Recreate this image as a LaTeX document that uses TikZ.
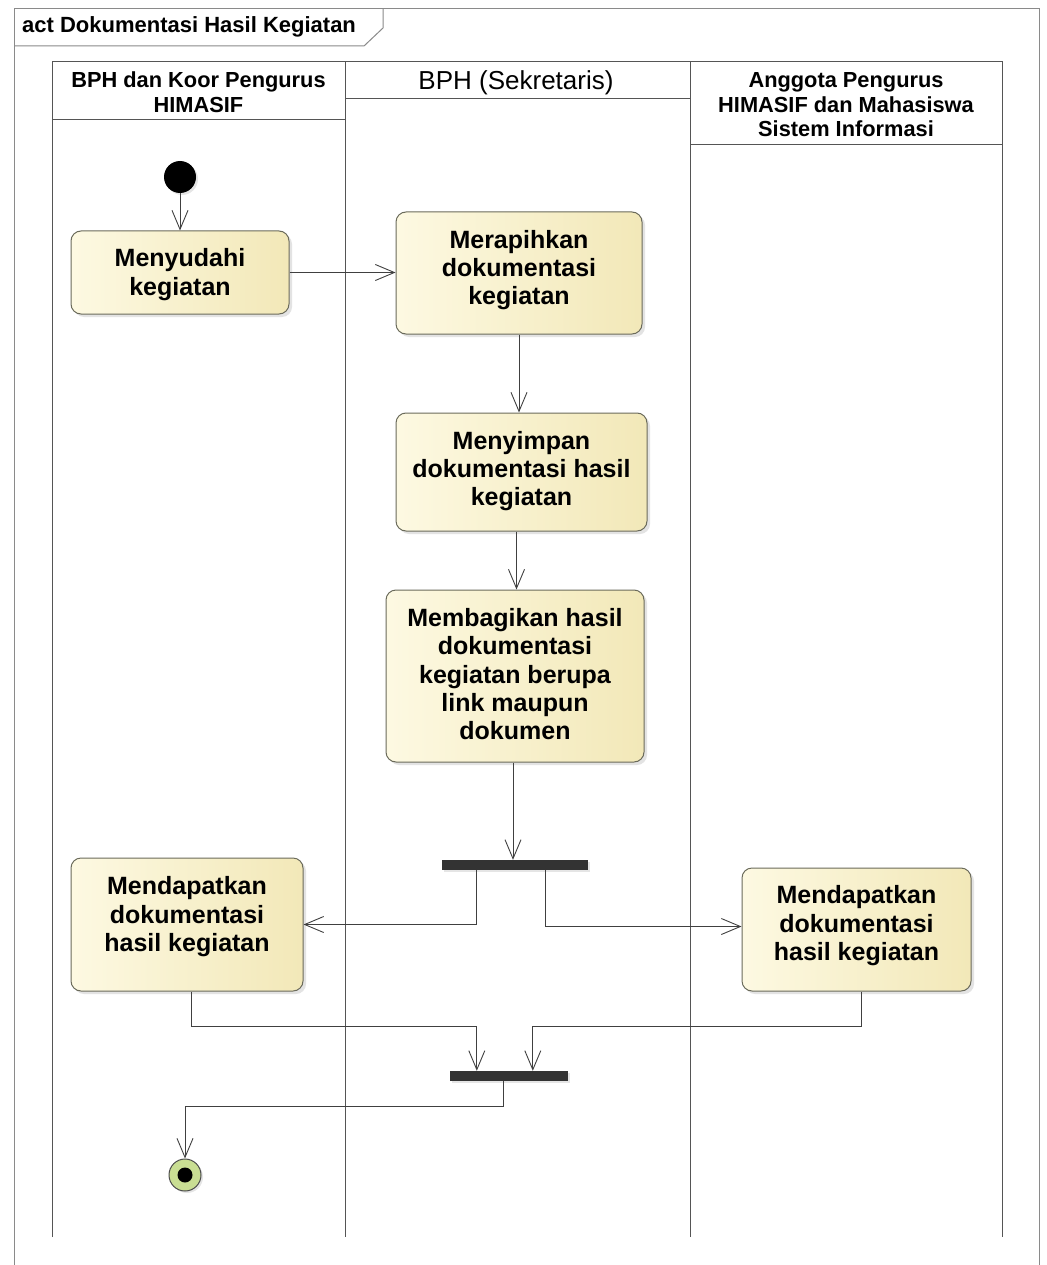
\documentclass[tikz,border=0pt]{standalone}
\usepackage{fontspec}
\setmainfont{Liberation Sans}
\usetikzlibrary{arrows.meta,shadows,positioning,calc}
\definecolor{boxL}{HTML}{FDF9E2}
\definecolor{boxR}{HTML}{F2E8B8}
\definecolor{boxdraw}{HTML}{6B6B5B}
\definecolor{lanecol}{HTML}{555555}
\definecolor{framecol}{HTML}{8A8A8A}
\definecolor{finalgreen}{HTML}{C9DE93}
\begin{document}
\begin{tikzpicture}[x=1pt,y=-1pt,
  action/.style={draw=boxdraw, line width=1pt, rounded corners=10pt,
    left color=boxL, right color=boxR, align=center,
    drop shadow={shadow xshift=3pt, shadow yshift=-3pt, opacity=0.22},
    font=\fontsize{25}{28.3}\selectfont\bfseries, inner sep=0pt},
  bar/.style={fill=black!80, draw=none, minimum height=10pt, inner sep=0pt,
    drop shadow={shadow xshift=2pt, shadow yshift=-2pt, opacity=0.2}},
  flow/.style={draw=black!75, line width=0.9pt,
    -{Straight Barb[length=19pt,width=16pt,line width=0.9pt]}},
  lane/.style={draw=lanecol, line width=1pt},
  hdr/.style={align=center, inner sep=0pt, font=\fontsize{21.8}{24.5}\selectfont\bfseries}
]
\useasboundingbox (0,0) rectangle (1046,1265);
\fill[white] (0,0) rectangle (1046,1265);

% frame
\draw[framecol, line width=1pt] (14,1265) -- (14,9) -- (1039,9) -- (1039,1265);
\draw[framecol, line width=1pt] (14,46) -- (364,46) -- (383,28) -- (383,9);
\node[anchor=west, inner sep=0pt, font=\fontsize{22}{24}\selectfont\bfseries] (title) at (22,27) {act Dokumentasi Hasil Kegiatan};

% swimlanes
\draw[lane] (52,1237) -- (52,62) -- (1002,62) -- (1002,1237);
\draw[lane] (345,62) -- (345,1237);
\draw[lane] (690,62) -- (690,1237);
\draw[lane] (52,120) -- (345,120);
\draw[lane] (345,99) -- (690,99);
\draw[lane] (690,145) -- (1002,145);
\node[hdr] (h1) at (198.5,92) {BPH dan Koor Pengurus\\HIMASIF};
\node[hdr, font=\fontsize{26}{28}\selectfont] (h2) at (516,82.5) {BPH (Sekretaris)};
\node[hdr] (h3) at (846,105) {Anggota Pengurus\\HIMASIF dan Mahasiswa\\Sistem Informasi};

% nodes
\node[circle, fill=black, minimum size=32pt, inner sep=0pt,
  drop shadow={shadow xshift=2pt, shadow yshift=-2pt, opacity=0.2}] (init) at (180,177) {};
\node[action, minimum width=218pt, minimum height=83pt, text depth=1pt] (menyudahi) at (180,272.5) {Menyudahi\\kegiatan};
\node[action, minimum width=246pt, minimum height=122pt, text depth=11pt] (merapihkan) at (519,273) {Merapihkan\\dokumentasi\\kegiatan};
\node[action, minimum width=251pt, minimum height=118pt, text depth=7pt] (menyimpan) at (521.5,472) {Menyimpan\\dokumentasi hasil\\kegiatan};
\node[action, minimum width=258pt, minimum height=172pt, text depth=4pt] (membagikan) at (515,676) {Membagikan hasil\\dokumentasi\\kegiatan berupa\\link maupun\\dokumen};
\node[bar, minimum width=146pt] (fork) at (515,865) {};
\node[action, minimum width=232pt, minimum height=133pt, text depth=21pt] (mendL) at (187,924.5) {Mendapatkan\\dokumentasi\\hasil kegiatan};
\node[action, minimum width=229pt, minimum height=123pt, text depth=13pt] (mendR) at (856.5,929.5) {Mendapatkan\\dokumentasi\\hasil kegiatan};
\node[bar, minimum width=118pt] (join) at (509,1076) {};
\node[circle, draw=black!70, line width=1pt, fill=finalgreen, minimum size=32pt, inner sep=0pt,
  drop shadow={shadow xshift=2pt, shadow yshift=-2pt, opacity=0.2}] (final) at (185,1175) {};
\node[circle, fill=black, minimum size=15pt, inner sep=0pt] (finaldot) at (final.center) {};

% connectors
\draw[flow] (init.south) -- (init.south |- menyudahi.north);
\draw[flow] (menyudahi.east) -- (menyudahi.east -| merapihkan.west);
\draw[flow] (merapihkan.south) -- (merapihkan.south |- menyimpan.north);
\draw[flow] ([xshift=-5pt]menyimpan.south) -- ([xshift=-5pt]menyimpan.south |- membagikan.north);
\draw[flow] ([xshift=-2pt]membagikan.south) -- ([xshift=-2pt]membagikan.south |- fork.north);
\coordinate (fl) at ([xshift=35pt]fork.south west);
\coordinate (fr) at ([xshift=104pt]fork.south west);
\draw[flow] (fl) |- (mendL.east);
\draw[flow] (fr) |- ([yshift=3pt]mendR.west);
\coordinate (jl) at ([xshift=27pt]join.north west);
\coordinate (jr) at ([xshift=83pt]join.north west);
\draw[flow] ([xshift=4pt]mendL.south) -- ++(0,35) -| (jl);
\draw[flow] ([xshift=5pt]mendR.south) -- ++(0,35) -| (jr);
\draw[flow] ([xshift=-6pt]join.south) -- ++(0,25) -| (final.north);
\end{tikzpicture}
\end{document}
